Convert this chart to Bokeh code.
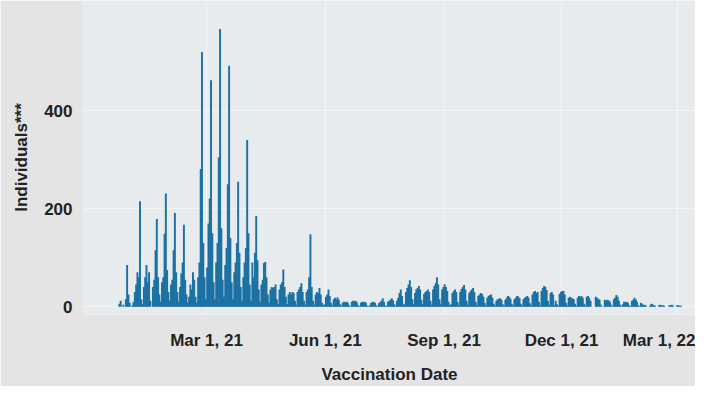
import pandas as pd
from bokeh.plotting import figure
from bokeh.models import FixedTicker, DatetimeTickFormatter, Range1d, ColumnDataSource
from bokeh.embed import file_html
from bokeh.resources import INLINE

# Daily vaccinated individuals (each list starts at its first date)
dec_2020 = [6, 12, 0, 4, 0, 15, 85, 25, 8]  # from 2020-12-23
jan_2021 = [0, 3, 10, 30, 45, 70, 60, 215, 15, 5, 40, 60, 85, 50, 70, 12, 0,
            40, 55, 115, 179, 60, 25, 10,
            50, 60, 149, 231, 75, 30, 12]
feb_2021 = [45, 55, 115, 191, 70, 30, 10,
            40, 68, 90, 167, 55, 25, 8,
            20, 45, 35, 70, 55, 20, 8,
            60, 90, 281, 520, 130, 60, 15]
mar_2021 = [80, 170, 221, 462, 150, 50, 15,
            90, 130, 305, 567, 160, 55, 20,
            85, 120, 250, 492, 140, 50, 15,
            70, 90, 130, 255, 110, 40, 12,
            60, 90, 120]
apr_2021 = [340, 150, 45, 12,
            90, 60, 110, 185, 95, 35, 10,
            45, 55, 89, 91, 60, 25, 8,
            35, 40, 38, 40, 45, 15, 5,
            35, 45, 50, 76, 40]
may_2021 = [20, 5,
            25, 30, 25, 30, 28, 12, 4,
            30, 35, 40, 48, 30, 12, 4,
            30, 35, 60, 148, 40, 12, 4,
            25, 30, 28, 38, 25, 8, 3, 5]
jun_2021 = [20, 25, 35, 22, 8, 3,
            15, 18, 15, 19, 14, 5, 2,
            8, 10, 9, 10, 8, 3, 1,
            10, 12, 11, 12, 9, 3, 1,
            8, 10, 9]
jul_2021 = [10, 8, 2, 1,
            3, 8, 9, 10, 8, 3, 1,
            7, 9, 12, 17, 10, 3, 1,
            10, 12, 14, 17, 13, 5, 2,
            12, 18, 28, 35, 22, 6]
aug_2021 = [4,
            30, 38, 45, 54, 40, 15, 5,
            28, 35, 38, 42, 35, 14, 5,
            26, 30, 32, 35, 30, 12, 4,
            35, 42, 48, 60, 45, 15, 5,
            35, 40]
sep_2021 = [46, 40, 32, 10, 3,
            5, 28, 32, 35, 30, 10, 3,
            30, 36, 40, 44, 35, 12, 4,
            28, 32, 35, 38, 30, 10, 3,
            22, 25, 28, 26]
oct_2021 = [20, 8, 3,
            18, 22, 24, 25, 18, 6, 2,
            12, 15, 16, 17, 14, 5, 2,
            14, 18, 22, 20, 16, 6, 2,
            15, 18, 22, 21, 17, 6, 2]
nov_2021 = [15, 18, 20, 22, 18, 7, 2,
            25, 30, 32, 28, 30, 10, 3,
            32, 38, 42, 40, 34, 12, 4,
            28, 30, 25, 3, 12, 5, 2,
            26, 30]
dec_2021 = [32, 32, 25, 8, 3,
            18, 20, 18, 17, 15, 6, 2,
            18, 22, 20, 22, 18, 6, 2,
            20, 22, 18, 12, 0, 0, 0,
            20, 18, 16, 14, 4]
jan_2022 = [0, 1,
            14, 12, 14, 13, 10, 4, 1,
            15, 18, 24, 20, 12, 4, 1,
            5, 10, 9, 10, 8, 3, 1,
            12, 14, 18, 15, 10, 3, 1,
            8]
feb_2022 = [6, 3, 4, 2, 0, 0,
            2, 6, 5, 3, 2, 0, 0,
            3, 4, 3, 3, 2, 0, 0,
            0, 3, 3, 4, 2, 0, 0,
            3]
mar_2022 = [3, 2, 2]

month_series = [
    ("2020-12-23", dec_2020), ("2021-01-01", jan_2021), ("2021-02-01", feb_2021),
    ("2021-03-01", mar_2021), ("2021-04-01", apr_2021), ("2021-05-01", may_2021),
    ("2021-06-01", jun_2021), ("2021-07-01", jul_2021), ("2021-08-01", aug_2021),
    ("2021-09-01", sep_2021), ("2021-10-01", oct_2021), ("2021-11-01", nov_2021),
    ("2021-12-01", dec_2021), ("2022-01-01", jan_2022), ("2022-02-01", feb_2022),
    ("2022-03-01", mar_2022),
]

x_tick_dates = ["2021-03-01", "2021-06-01", "2021-09-01", "2021-12-01", "2022-03-01"]
y_ticks = [0, 200, 400]

dates, values = [], []
for start, arr in month_series:
    rng = pd.date_range(start, periods=len(arr), freq="D") + pd.Timedelta(hours=12)
    dates.extend(rng)
    values.extend(arr)

src = ColumnDataSource(data=dict(x=dates, top=values))

FONT = "Liberation Sans"
TXT = "#222222"

p = figure(width=695, height=386, x_axis_type="datetime",
           x_range=Range1d(pd.Timestamp("2020-11-25 17:00"), pd.Timestamp("2022-03-14 19:00")),
           y_range=Range1d(-16, 625),
           output_backend="svg", toolbar_location=None,
           min_border_left=83, min_border_right=0, min_border_top=0, min_border_bottom=64)

p.vbar(x="x", top="top", width=86400000 * 1.5, source=src,
       fill_color="#1b71a3", line_color=None)

p.background_fill_color = "#e8ebee"
p.border_fill_color = "#e4e4e4"
p.outline_line_color = None

ms_ticks = [pd.Timestamp(t).value // 10**6 for t in x_tick_dates]
p.xaxis.ticker = FixedTicker(ticks=ms_ticks)
p.xaxis.formatter = DatetimeTickFormatter(days="%b %-d, %y", months="%b %-d, %y",
                                          years="%b %-d, %y")
p.yaxis.ticker = FixedTicker(ticks=y_ticks)

for ax in (p.xaxis, p.yaxis):
    ax.axis_line_color = None
    ax.major_tick_line_color = None
    ax.minor_tick_line_color = None
    ax.major_label_text_font = FONT
    ax.major_label_text_font_size = "17px"
    ax.major_label_text_font_style = "bold"
    ax.major_label_text_color = TXT
    ax.axis_label_text_font = FONT
    ax.axis_label_text_font_size = "17px"
    ax.axis_label_text_font_style = "bold"
    ax.axis_label_text_color = TXT

p.xaxis.axis_label = "Vaccination Date"
p.yaxis.axis_label = "Individuals***"
p.xaxis.major_label_standoff = 10
p.yaxis.major_label_standoff = 5
p.xaxis.axis_label_standoff = 12
p.yaxis.axis_label_standoff = 10

p.xgrid.grid_line_color = "white"
p.xgrid.grid_line_alpha = 0.45
p.ygrid.grid_line_color = "white"
p.ygrid.grid_line_alpha = 0.45

open("out.html", "w").write(file_html(p, INLINE))
